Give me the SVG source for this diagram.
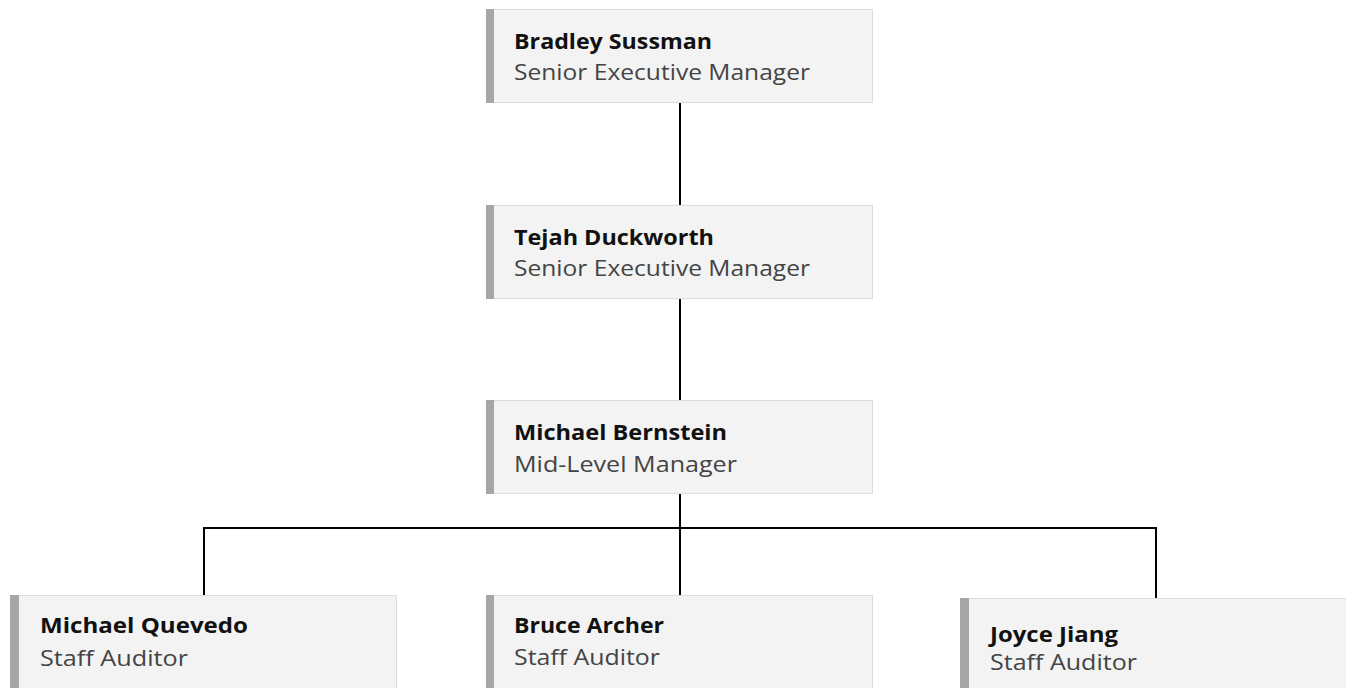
<svg xmlns="http://www.w3.org/2000/svg" width="1346" height="688" viewBox="0 0 1346 688">
<style>
.box{fill:#f3f3f3;stroke:#dcdcdc;stroke-width:1}
.bar{fill:#a6a6a6}
.nm{font-family:"Open Sans","Liberation Sans",sans-serif;font-weight:bold;font-size:22px;fill:#111}
.tt{font-family:"Open Sans","Liberation Sans",sans-serif;font-size:22px;fill:#444}
.ln{stroke:#000;stroke-width:2;fill:none}
</style>
<rect width="1346" height="688" fill="#fff"/>
<g id="connectors">
<line class="ln" x1="680" y1="102" x2="680" y2="205"/>
<line class="ln" x1="680" y1="298" x2="680" y2="400"/>
<line class="ln" x1="680" y1="493" x2="680" y2="595"/>
<polyline class="ln" points="204,595 204,528 1156,528 1156,598"/>
</g>
<g id="n1">
<rect class="box" x="486.5" y="9.5" width="386" height="93"/>
<rect class="bar" x="486" y="9" width="8" height="94"/>
<text class="nm" x="514" y="49" textLength="198" lengthAdjust="spacingAndGlyphs">Bradley Sussman</text>
<text class="tt" x="514" y="80" textLength="296" lengthAdjust="spacingAndGlyphs">Senior Executive Manager</text>
</g>
<g id="n2">
<rect class="box" x="486.5" y="205.5" width="386" height="93"/>
<rect class="bar" x="486" y="205" width="8" height="94"/>
<text class="nm" x="514" y="245" textLength="200" lengthAdjust="spacingAndGlyphs">Tejah Duckworth</text>
<text class="tt" x="514" y="276" textLength="296" lengthAdjust="spacingAndGlyphs">Senior Executive Manager</text>
</g>
<g id="n3">
<rect class="box" x="486.5" y="400.5" width="386" height="93"/>
<rect class="bar" x="486" y="400" width="8" height="94"/>
<text class="nm" x="514" y="440" textLength="213" lengthAdjust="spacingAndGlyphs">Michael Bernstein</text>
<text class="tt" x="514" y="472" textLength="223" lengthAdjust="spacingAndGlyphs">Mid-Level Manager</text>
</g>
<g id="n4">
<rect class="box" x="10.5" y="595.5" width="386" height="100"/>
<rect class="bar" x="10" y="595" width="9" height="100"/>
<text class="nm" x="40" y="633" textLength="208" lengthAdjust="spacingAndGlyphs">Michael Quevedo</text>
<text class="tt" x="40" y="666" textLength="148" lengthAdjust="spacingAndGlyphs">Staff Auditor</text>
</g>
<g id="n5">
<rect class="box" x="486.5" y="595.5" width="386" height="100"/>
<rect class="bar" x="486" y="595" width="8" height="100"/>
<text class="nm" x="514" y="633" textLength="150" lengthAdjust="spacingAndGlyphs">Bruce Archer</text>
<text class="tt" x="514" y="665" textLength="146" lengthAdjust="spacingAndGlyphs">Staff Auditor</text>
</g>
<g id="n6">
<rect class="box" x="960.5" y="598.5" width="386" height="100"/>
<rect class="bar" x="960" y="598" width="9" height="100"/>
<text class="nm" x="990" y="642" textLength="128" lengthAdjust="spacingAndGlyphs">Joyce Jiang</text>
<text class="tt" x="990" y="670" textLength="147" lengthAdjust="spacingAndGlyphs">Staff Auditor</text>
</g>
</svg>
